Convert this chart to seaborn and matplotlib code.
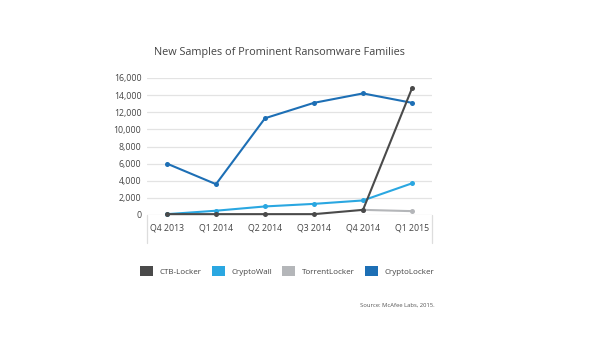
import matplotlib
matplotlib.use("Agg")
import matplotlib.pyplot as plt
import seaborn as sns
import numpy as np
import pandas as pd
from matplotlib.patches import Patch
from matplotlib.lines import Line2D

quarters = ["Q4 2013", "Q1 2014", "Q2 2014", "Q3 2014", "Q4 2014", "Q1 2015"]
ctb_locker = [100, 100, 100, 100, 600, 14800]
crypto_wall = [100, 500, 1000, 1300, 1700, 3700]
torrent_locker = [np.nan, np.nan, np.nan, np.nan, 600, 450]
crypto_locker = [6000, 3600, 11300, 13100, 14200, 13100]
series_names = ["CTB-Locker", "CryptoWall", "TorrentLocker", "CryptoLocker"]
colors = ["#4a4a4a", "#2aa7e1", "#b4b6b9", "#1d6fb5"]
yticks = [0, 2000, 4000, 6000, 8000, 10000, 12000, 14000, 16000]

sns.set_theme(style="white")
plt.rcParams["font.family"] = ["Open Sans", "DejaVu Sans"]

rows = []
for name, vals in zip(series_names, [ctb_locker, crypto_wall, torrent_locker, crypto_locker]):
    for i, (q, v) in enumerate(zip(quarters, vals)):
        rows.append({"series": name, "idx": i, "value": v})
df = pd.DataFrame(rows).dropna()

fig = plt.figure(figsize=(6, 3.4), dpi=100)
ax = fig.add_axes([147/600, 1-215/340, (432-147)/600, (215-78)/340])

draw_order = ["TorrentLocker", "CryptoWall", "CryptoLocker", "CTB-Locker"]
pal = dict(zip(series_names, colors))
for name in draw_order:
    sub = df[df["series"] == name]
    sns.lineplot(data=sub, x="idx", y="value", ax=ax, color=pal[name],
                 linewidth=1.5, marker="o", markersize=3.6,
                 markeredgewidth=0, legend=False, clip_on=False)

ax.set_xlim(-0.408, 5.408)
ax.set_ylim(0, 16000)
ax.set_yticks(yticks)
ax.set_yticklabels([f"{v:,}" for v in yticks])
ax.set_xticks(range(len(quarters)))
ax.set_xticklabels(quarters)
ax.set_xlabel("")
ax.set_ylabel("")
ax.grid(axis="y", color="#e3e3e3", linewidth=0.9)
ax.set_axisbelow(True)
for s in ax.spines.values():
    s.set_visible(False)
ax.tick_params(axis="y", length=0, pad=4, labelsize=6.3, labelcolor="#444444")
ax.tick_params(axis="x", length=0, pad=6, labelsize=6.3, labelcolor="#444444")

for xa in (0, 1):
    ax.add_line(Line2D([xa, xa], [0, -0.205], transform=ax.transAxes,
                       color="#dddddd", linewidth=0.9, clip_on=False))

fig.text(279/600, 1-52/340, "New Samples of Prominent Ransomware Families",
         ha="center", va="center", fontsize=7.8, color="#444444", fontweight="medium")

handles = [Patch(facecolor=c, edgecolor="none") for c in colors]
fig.legend(handles, series_names, loc="center", bbox_to_anchor=(287/600, 1-271/340),
           ncol=4, frameon=False, fontsize=5.8, handlelength=1.6, handleheight=1.6,
           handletextpad=0.8, columnspacing=1.3, labelcolor="#444444")

fig.text(435/600, 1-305/340, "Source: McAfee Labs, 2015.", ha="right", va="center",
         fontsize=4.2, color="#555555")

fig.savefig("out.png", dpi=100)
